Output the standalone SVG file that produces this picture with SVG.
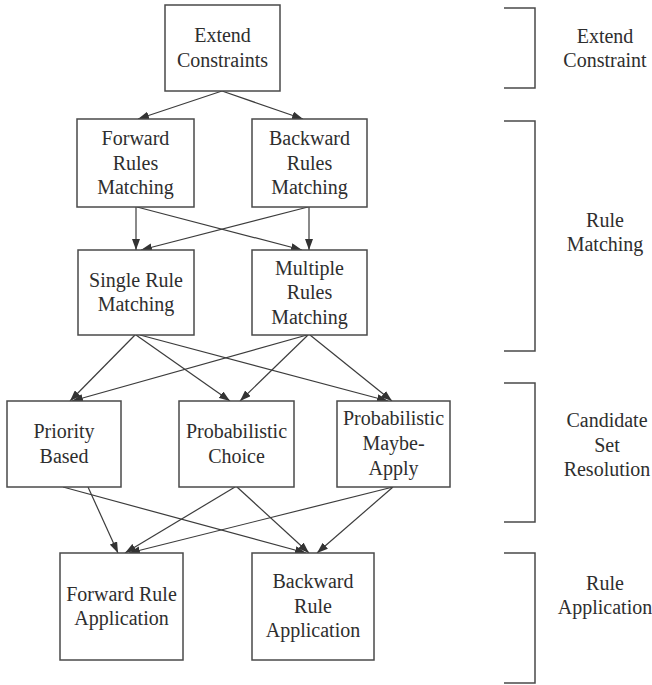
<svg xmlns="http://www.w3.org/2000/svg" width="652" height="685" viewBox="0 0 652 685">
  <style>
    .box { fill: #ffffff; stroke: #4a4a4a; stroke-width: 1.5; }
    .lbl { font-size: 20px; fill: #2e2e2e; text-anchor: middle; }
    .edge { stroke: #3c3c3c; stroke-width: 1.2; fill: none; marker-end: url(#arrow); }
    .brace { stroke: #4a4a4a; stroke-width: 1.5; fill: none; }
  </style>
  <defs>
    <marker id="arrow" viewBox="0 0 11 8" refX="11" refY="4" markerWidth="11" markerHeight="8" markerUnits="userSpaceOnUse" orient="auto">
      <path d="M0,0 L11,4 L0,8 z" fill="#333333"/>
    </marker>
  </defs>
  <rect width="652" height="685" fill="#ffffff"/>

  <!-- connectors -->
  <g id="connectors">
    <line class="edge" x1="222" y1="91" x2="138" y2="119"/>
    <line class="edge" x1="222" y1="91" x2="303" y2="119"/>
    <line class="edge" x1="136" y1="207" x2="136" y2="250"/>
    <line class="edge" x1="309" y1="207" x2="309" y2="250"/>
    <line class="edge" x1="137" y1="207" x2="302" y2="250"/>
    <line class="edge" x1="308" y1="207" x2="141" y2="250"/>

    <line class="edge" x1="135" y1="335" x2="70" y2="401"/>
    <line class="edge" x1="136" y1="335" x2="230" y2="401"/>
    <line class="edge" x1="140" y1="335" x2="388" y2="401"/>
    <line class="edge" x1="307" y1="335" x2="72" y2="401"/>
    <line class="edge" x1="308" y1="335" x2="240" y2="401"/>
    <line class="edge" x1="310" y1="335" x2="392" y2="401"/>

    <line class="edge" x1="88" y1="487" x2="118" y2="553"/>
    <line class="edge" x1="63" y1="487" x2="306" y2="553"/>
    <line class="edge" x1="235" y1="487" x2="125" y2="553"/>
    <line class="edge" x1="237" y1="487" x2="309" y2="553"/>
    <line class="edge" x1="393" y1="487" x2="129" y2="553"/>
    <line class="edge" x1="393" y1="487" x2="317" y2="553"/>
  </g>

  <g font-family="'Liberation Serif', Tinos, 'Times New Roman', Times, 'DejaVu Serif', serif">
  <!-- nodes -->
  <g id="extend-constraints">
    <rect class="box" x="165" y="5" width="115" height="86"/>
    <text class="lbl" x="222.5" y="42">Extend</text>
    <text class="lbl" x="222.5" y="66.5">Constraints</text>
  </g>
  <g id="forward-rules-matching">
    <rect class="box" x="77" y="119" width="117" height="88"/>
    <text class="lbl" x="135.5" y="145">Forward</text>
    <text class="lbl" x="135.5" y="169.5">Rules</text>
    <text class="lbl" x="135.5" y="194">Matching</text>
  </g>
  <g id="backward-rules-matching">
    <rect class="box" x="252" y="119" width="115" height="88"/>
    <text class="lbl" x="309.5" y="145">Backward</text>
    <text class="lbl" x="309.5" y="169.5">Rules</text>
    <text class="lbl" x="309.5" y="194">Matching</text>
  </g>
  <g id="single-rule-matching">
    <rect class="box" x="78" y="250" width="116" height="85"/>
    <text class="lbl" x="136" y="287">Single Rule</text>
    <text class="lbl" x="136" y="311">Matching</text>
  </g>
  <g id="multiple-rules-matching">
    <rect class="box" x="252" y="250" width="115" height="85"/>
    <text class="lbl" x="309.5" y="274.5">Multiple</text>
    <text class="lbl" x="309.5" y="299">Rules</text>
    <text class="lbl" x="309.5" y="323.5">Matching</text>
  </g>
  <g id="priority-based">
    <rect class="box" x="7" y="401" width="114" height="86"/>
    <text class="lbl" x="64" y="438">Priority</text>
    <text class="lbl" x="64" y="462.5">Based</text>
  </g>
  <g id="probabilistic-choice">
    <rect class="box" x="179" y="401" width="115" height="86"/>
    <text class="lbl" x="236.5" y="438">Probabilistic</text>
    <text class="lbl" x="236.5" y="462.5">Choice</text>
  </g>
  <g id="probabilistic-maybe-apply">
    <rect class="box" x="337" y="401" width="113" height="86"/>
    <text class="lbl" x="393.5" y="425">Probabilistic</text>
    <text class="lbl" x="393.5" y="450">Maybe-</text>
    <text class="lbl" x="393.5" y="474.5">Apply</text>
  </g>
  <g id="forward-rule-application">
    <rect class="box" x="60" y="553" width="123" height="107"/>
    <text class="lbl" x="121.5" y="600.5">Forward Rule</text>
    <text class="lbl" x="121.5" y="625">Application</text>
  </g>
  <g id="backward-rule-application">
    <rect class="box" x="252" y="553" width="122" height="107"/>
    <text class="lbl" x="313" y="588">Backward</text>
    <text class="lbl" x="313" y="612.5">Rule</text>
    <text class="lbl" x="313" y="637">Application</text>
  </g>

  <!-- stage brackets -->
  <g id="stage-extend-constraint">
    <path class="brace" d="M504,8 H535 V88 H504"/>
    <text class="lbl" x="605" y="42.5">Extend</text>
    <text class="lbl" x="605" y="66.5">Constraint</text>
  </g>
  <g id="stage-rule-matching">
    <path class="brace" d="M504,121 H535 V351 H504"/>
    <text class="lbl" x="605" y="227">Rule</text>
    <text class="lbl" x="605" y="251">Matching</text>
  </g>
  <g id="stage-candidate-set-resolution">
    <path class="brace" d="M504,383 H535 V522 H504"/>
    <text class="lbl" x="607" y="427">Candidate</text>
    <text class="lbl" x="607" y="452">Set</text>
    <text class="lbl" x="607" y="476">Resolution</text>
  </g>
  <g id="stage-rule-application">
    <path class="brace" d="M504,553 H535 V683 H504"/>
    <text class="lbl" x="605" y="590">Rule</text>
    <text class="lbl" x="605" y="613.5">Application</text>
  </g>
  </g>
</svg>
